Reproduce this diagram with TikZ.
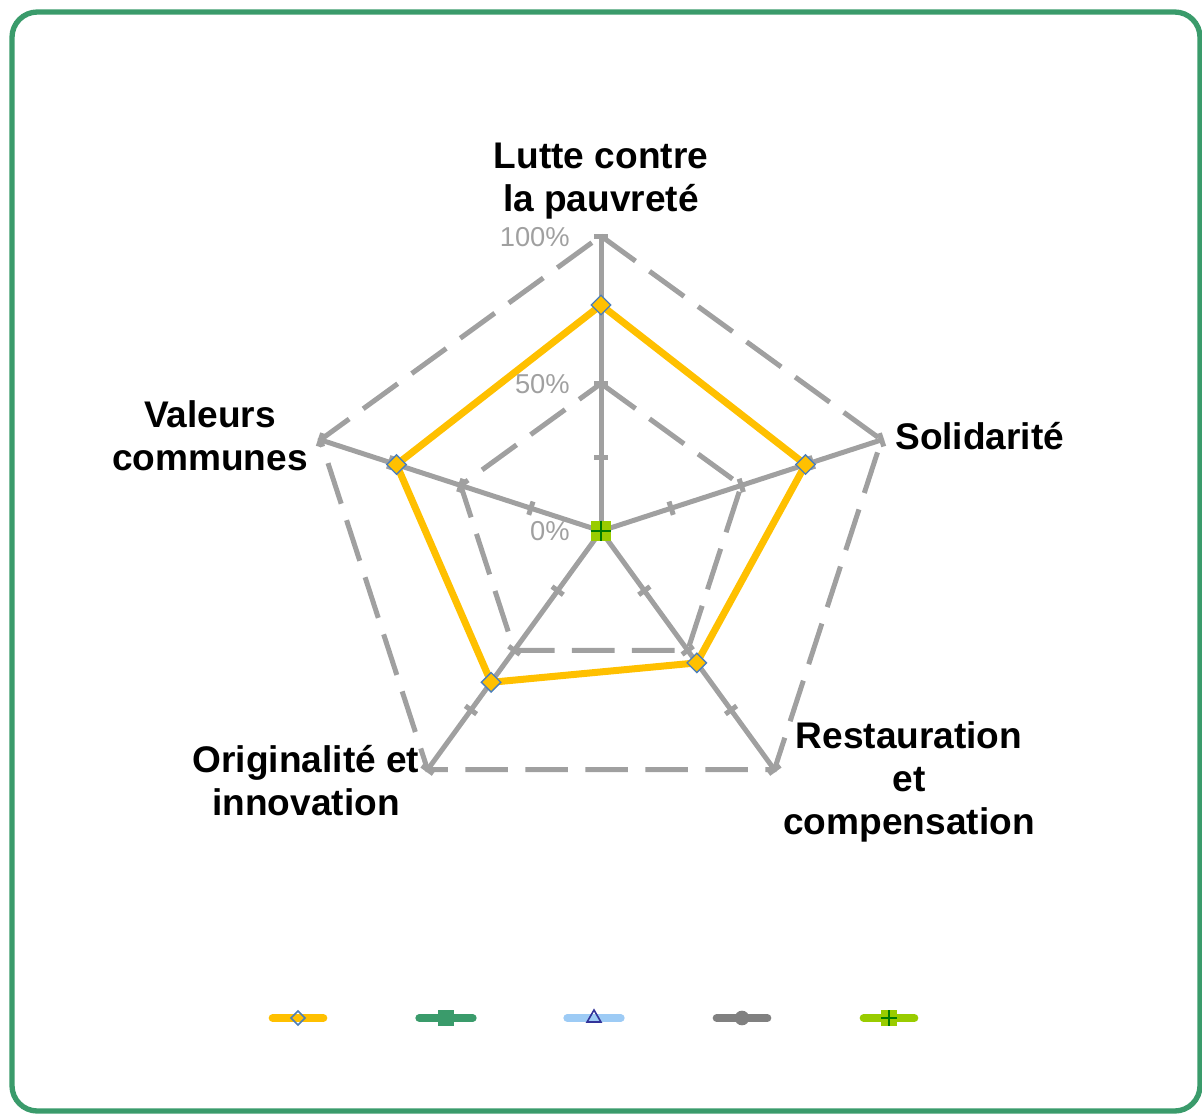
\documentclass[tikz,border=0pt]{standalone}
\usepackage{fontspec}
\setmainfont{Liberation Sans}
\usetikzlibrary{shapes.geometric}

\definecolor{frame}{HTML}{3A9B6B}
\definecolor{grid}{HTML}{A0A0A0}
\definecolor{serieA}{HTML}{FFC000}
\definecolor{edgeA}{HTML}{4A7EBB}
\definecolor{serieB}{HTML}{3A9B6B}
\definecolor{serieC}{HTML}{9DCBF5}
\definecolor{edgeC}{HTML}{333399}
\definecolor{serieD}{HTML}{808080}
\definecolor{serieE}{HTML}{99CC00}
\definecolor{edgeE}{HTML}{007A00}

\tikzset{
  axisline/.style={draw=grid, line width=3.75pt},
  gridring/.style={draw=grid, line width=3.75pt, dash pattern=on 32pt off 13pt},
  dataline/.style={draw=serieA, line width=5.25pt, line join=round},
  datamark/.style={diamond, draw=edgeA, fill=serieA, line width=1pt, inner sep=0pt, minimum size=15pt},
  axislabel/.style={font=\fontsize{27.8}{32.3}\selectfont\bfseries, align=center, inner sep=0pt},
  pctlabel/.style={font=\fontsize{20.5}{24}\selectfont, text=grid, anchor=east, inner sep=0pt},
  legline/.style={line width=6pt, line cap=round},
}

\begin{document}
\begin{tikzpicture}[x=0.75pt, y=0.75pt]
\useasboundingbox (0,0) rectangle (1202,-1113);
\clip (0,0) rectangle (1202,-1113);

% frame
\draw[frame, line width=4pt, rounded corners=19pt] (12,-12) rectangle (1200,-1111);

\begin{scope}[shift={(601,-531)}]
% axis ends, rings
\coordinate (c) at (0,0);
\coordinate (t1) at (90:295);
\coordinate (t2) at (18:295);
\coordinate (t3) at (-54:295);
\coordinate (t4) at (-126:295);
\coordinate (t5) at (162:295);
\coordinate (h1) at (90:147.5);
\coordinate (h2) at (18:147.5);
\coordinate (h3) at (-54:147.5);
\coordinate (h4) at (-126:147.5);
\coordinate (h5) at (162:147.5);

\draw[gridring] (t1) -- (t2) -- (t3) -- (t4) -- (t5) -- cycle;
\draw[gridring] (h1) -- (h2) -- (h3) -- (h4) -- (h5) -- cycle;

\foreach \a in {1,...,5}
  \draw[axisline] (c) -- (t\a);
\foreach \a in {90,18,-54,-126,162}
  \foreach \r in {73.75,147.5,221.25,295}
    \draw[grid, line width=3.75pt] (\a:\r) ++(\a+90:7) -- ++(\a-90:14);

% data
\coordinate (d1) at (90:226);
\coordinate (d2) at (18:215);
\coordinate (d3) at (-54:163);
\coordinate (d4) at (-126:187);
\coordinate (d5) at (162:215);
\draw[dataline] (d1) -- (d2) -- (d3) -- (d4) -- (d5) -- cycle;
\foreach \a in {1,...,5}
  \node[datamark] (m\a) at (d\a) {};

\node[fill=serieE, minimum size=15pt, inner sep=0pt] (z) at (c) {};
\draw[edgeE, line width=2pt] (z.west) -- (z.east) (z.north) -- (z.south);
\end{scope}

% scale
\node[pctlabel] (p100) at (570,-237) {100\%};
\node[pctlabel] (p50) at (570,-384) {50\%};
\node[pctlabel] (p0) at (570,-531) {0\%};

% axis labels
\node[axislabel] (l1) at (601,-181) {Lutte contre\\la pauvreté};
\node[axislabel, anchor=west] (l2) at (895,-436) {Solidarité};
\node[axislabel] (l3) at (909,-782) {Restauration\\et\\compensation};
\node[axislabel] (l4) at (306,-781) {Originalité et\\innovation};
\node[axislabel] (l5) at (210,-436) {Valeurs\\communes};

% legend
\coordinate (ka) at (298,-1018);
\coordinate (kb) at (446,-1018);
\coordinate (kc) at (594,-1018);
\coordinate (kd) at (742,-1018);
\coordinate (ke) at (889,-1018);
\draw[legline, serieA] ([xshift=-19pt]ka) -- ([xshift=19pt]ka);
\node[diamond, draw=edgeA, line width=1.2pt, inner sep=0pt, minimum size=11pt] (ma) at (ka) {};
\draw[legline, serieB] ([xshift=-20pt]kb) -- ([xshift=20pt]kb);
\node[fill=serieB, inner sep=0pt, minimum size=11.5pt] (mb) at (kb) {};
\draw[legline, serieC] ([xshift=-20pt]kc) -- ([xshift=20pt]kc);
\node[isosceles triangle, isosceles triangle apex angle=60, shape border rotate=90, draw=edgeC, line width=1.2pt, inner sep=0pt, minimum size=9pt] (mc) at (kc) {};
\draw[legline, serieD] ([xshift=-19pt]kd) -- ([xshift=19pt]kd);
\node[circle, fill=serieD, inner sep=0pt, minimum size=11pt] (md) at (kd) {};
\draw[legline, serieE] ([xshift=-19pt]ke) -- ([xshift=19pt]ke);
\node[fill=serieE, inner sep=0pt, minimum size=11.5pt] (me) at (ke) {};
\draw[edgeE, line width=1.5pt] (me.west) -- (me.east) (me.north) -- (me.south);
\end{tikzpicture}
\end{document}
